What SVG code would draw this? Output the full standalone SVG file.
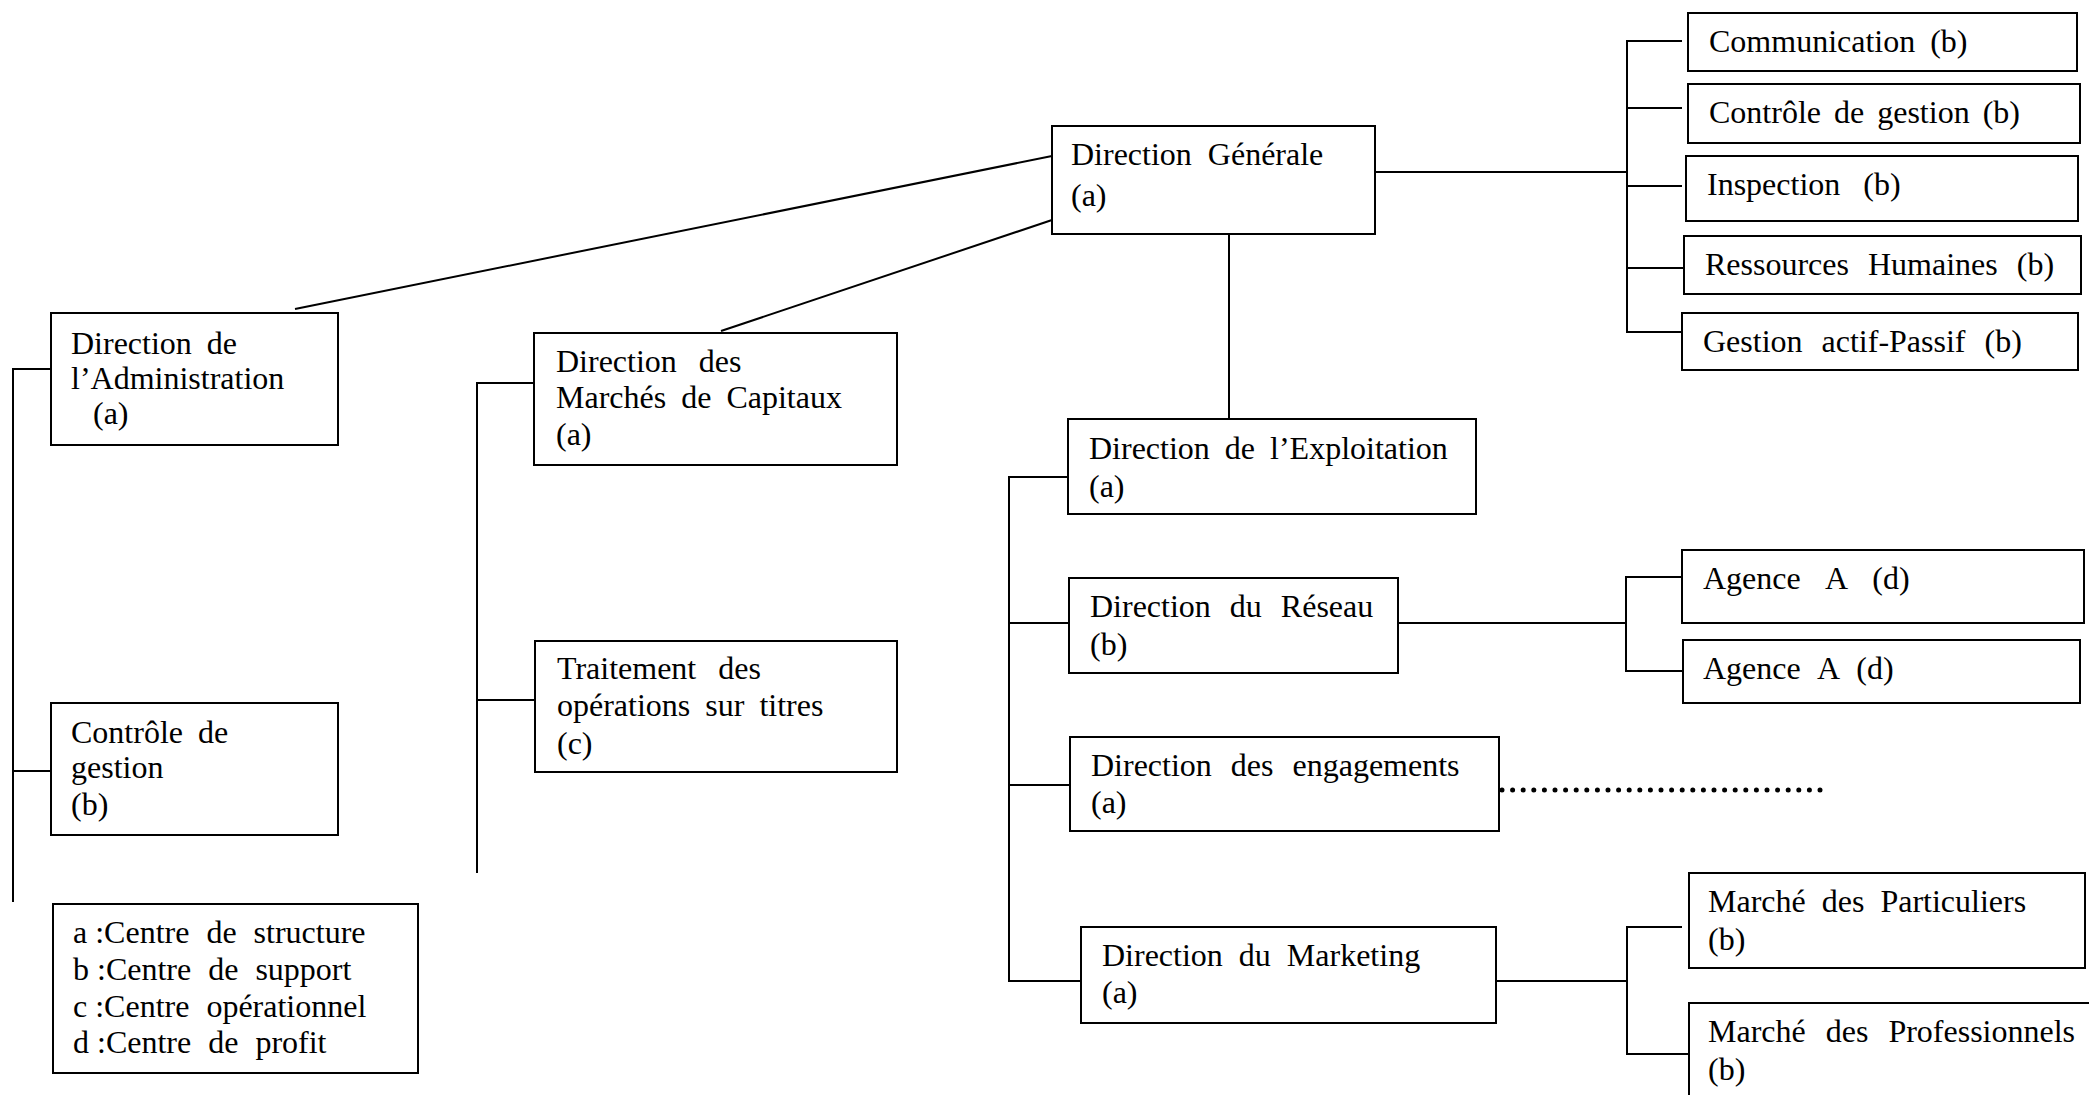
<svg xmlns="http://www.w3.org/2000/svg" width="2089" height="1095" viewBox="0 0 2089 1095">
<style>
  .box { fill: #ffffff; stroke: #000000; stroke-width: 2; }
  .ln { fill: none; stroke: #000000; stroke-width: 2; }
  .dot { fill: none; stroke: #000000; stroke-width: 5; stroke-linecap: round; stroke-dasharray: 0 10.6; }
  text { font-family: "Liberation Serif", "Times New Roman", serif; font-size: 32px; fill: #000000; }
</style>
<rect x="0" y="0" width="2089" height="1095" fill="#ffffff"/>
<g id="connectors">
  <line class="ln" x1="295" y1="309" x2="1052" y2="156"/>
  <line class="ln" x1="721" y1="331" x2="1052" y2="220"/>
  <line class="ln" x1="1229" y1="234" x2="1229" y2="419"/>
  <line class="ln" x1="1375" y1="172" x2="1627" y2="172"/>
  <polyline class="ln" points="1682,41 1627,41 1627,332 1682,332"/>
  <line class="ln" x1="1627" y1="108" x2="1682" y2="108"/>
  <line class="ln" x1="1627" y1="186" x2="1682" y2="186"/>
  <line class="ln" x1="1627" y1="268" x2="1684" y2="268"/>
  <polyline class="ln" points="51,369 13,369 13,902"/>
  <line class="ln" x1="13" y1="771" x2="51" y2="771"/>
  <polyline class="ln" points="534,383 477,383 477,873"/>
  <line class="ln" x1="477" y1="700" x2="535" y2="700"/>
  <polyline class="ln" points="1068,477 1009,477 1009,981 1081,981"/>
  <line class="ln" x1="1009" y1="623" x2="1069" y2="623"/>
  <line class="ln" x1="1009" y1="785" x2="1070" y2="785"/>
  <line class="ln" x1="1398" y1="623" x2="1626" y2="623"/>
  <polyline class="ln" points="1682,577 1626,577 1626,671 1683,671"/>
  <line class="ln" x1="1496" y1="981" x2="1627" y2="981"/>
  <polyline class="ln" points="1682,927 1627,927 1627,1054 1689,1054"/>
  <line class="dot" x1="1502" y1="790" x2="1822" y2="790"/>
</g>
<g id="n-dg">
  <rect class="box" x="1052" y="126" width="323" height="108"/>
  <text x="1071" y="165" word-spacing="8">Direction Générale</text>
  <text x="1071" y="206">(a)</text>
</g>
<g id="n-admin">
  <rect class="box" x="51" y="313" width="287" height="132"/>
  <text x="71" y="354" word-spacing="7">Direction de</text>
  <text x="71" y="389">l’Administration</text>
  <text x="93" y="424">(a)</text>
</g>
<g id="n-marches">
  <rect class="box" x="534" y="333" width="363" height="132"/>
  <text x="556" y="372" word-spacing="14">Direction des</text>
  <text x="556" y="408" word-spacing="7">Marchés de Capitaux</text>
  <text x="556" y="445">(a)</text>
</g>
<g id="n-traitement">
  <rect class="box" x="535" y="641" width="362" height="131"/>
  <text x="557" y="679" word-spacing="14">Traitement des</text>
  <text x="557" y="716" word-spacing="7">opérations sur titres</text>
  <text x="557" y="754">(c)</text>
</g>
<g id="n-controle-gauche">
  <rect class="box" x="51" y="703" width="287" height="132"/>
  <text x="71" y="743" word-spacing="7">Contrôle de</text>
  <text x="71" y="778">gestion</text>
  <text x="71" y="815">(b)</text>
</g>
<g id="n-legende">
  <rect class="box" x="53" y="904" width="365" height="169"/>
  <text x="73" y="943">a :<tspan word-spacing="9">Centre de structure</tspan></text>
  <text x="73" y="980">b :<tspan word-spacing="9">Centre de support</tspan></text>
  <text x="73" y="1017">c :<tspan word-spacing="9">Centre opérationnel</tspan></text>
  <text x="73" y="1053">d :<tspan word-spacing="9">Centre de profit</tspan></text>
</g>
<g id="n-exploitation">
  <rect class="box" x="1068" y="419" width="408" height="95"/>
  <text x="1089" y="459" word-spacing="7">Direction de l’Exploitation</text>
  <text x="1089" y="497">(a)</text>
</g>
<g id="n-reseau">
  <rect class="box" x="1069" y="578" width="329" height="95"/>
  <text x="1090" y="617" word-spacing="11">Direction du Réseau</text>
  <text x="1090" y="655">(b)</text>
</g>
<g id="n-engagements">
  <rect class="box" x="1070" y="737" width="429" height="94"/>
  <text x="1091" y="776" word-spacing="11">Direction des engagements</text>
  <text x="1091" y="813">(a)</text>
</g>
<g id="n-marketing">
  <rect class="box" x="1081" y="927" width="415" height="96"/>
  <text x="1102" y="966" word-spacing="8">Direction du Marketing</text>
  <text x="1102" y="1003">(a)</text>
</g>
<g id="n-communication">
  <rect class="box" x="1688" y="13" width="389" height="58"/>
  <text x="1709" y="52" word-spacing="7">Communication (b)</text>
</g>
<g id="n-controle-droite">
  <rect class="box" x="1688" y="84" width="392" height="59"/>
  <text x="1709" y="123" word-spacing="5">Contrôle de gestion (b)</text>
</g>
<g id="n-inspection">
  <rect class="box" x="1686" y="156" width="392" height="65"/>
  <text x="1707" y="195" word-spacing="15">Inspection (b)</text>
</g>
<g id="n-rh">
  <rect class="box" x="1684" y="236" width="397" height="58"/>
  <text x="1705" y="275" word-spacing="11">Ressources Humaines (b)</text>
</g>
<g id="n-gap">
  <rect class="box" x="1682" y="313" width="396" height="57"/>
  <text x="1703" y="352" word-spacing="11">Gestion actif-Passif (b)</text>
</g>
<g id="n-agence1">
  <rect class="box" x="1682" y="550" width="402" height="73"/>
  <text x="1703" y="589" word-spacing="18">Agence A (d)</text>
</g>
<g id="n-agence2">
  <rect class="box" x="1683" y="640" width="397" height="63"/>
  <text x="1703" y="679" word-spacing="10">Agence A (d)</text>
</g>
<g id="n-particuliers">
  <rect class="box" x="1689" y="873" width="396" height="95"/>
  <text x="1708" y="912" word-spacing="8">Marché des Particuliers</text>
  <text x="1708" y="950">(b)</text>
</g>
<g id="n-professionnels">
  <rect class="box" x="1689" y="1003" width="420" height="110"/>
  <text x="1708" y="1042" word-spacing="12">Marché des Professionnels</text>
  <text x="1708" y="1080">(b)</text>
</g>
</svg>
